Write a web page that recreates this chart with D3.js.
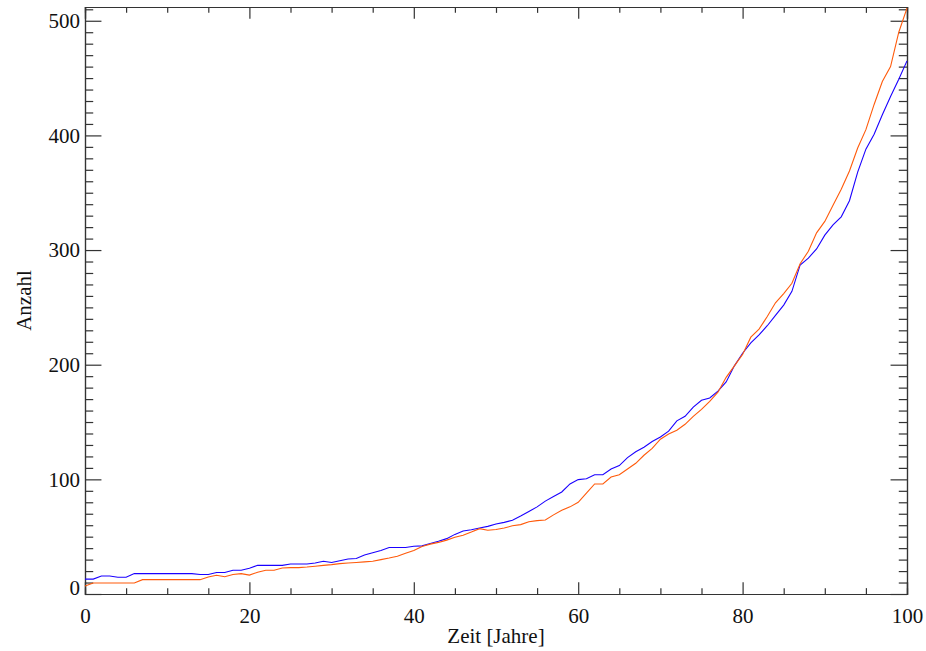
<!DOCTYPE html>
<html>
<head>
<meta charset="utf-8">
<script src="https://cdn.jsdelivr.net/npm/d3@7"></script>
<style>
  html, body { margin: 0; padding: 0; background: #fff; }
  svg { display: block; }
  text { font-family: "Liberation Serif", "DejaVu Serif", serif; fill: #111; }
</style>
</head>
<body>
<script>
// ---- data ----
const years = d3.range(0, 101);
const blueSeries = [13,13,15.7,15.7,14.6,14.6,17.8,17.8,17.8,17.8,17.8,17.8,17.8,17.8,17,17,18.7,18.7,20.7,20.7,
  22.5,25,25,25,25,26.2,26.2,26.2,27,28.5,27.5,29,30.5,31,34,36,38,40.5,40.5,40.5,
  41.6,42,44,46,48.3,52,55,56,57.5,59,61,62.5,64.3,68,72,76,81,85,89,96,
  99.8,100.5,104,104,109,112,119,124,128,133,137,142,151,155,163,169,171,177,185,199,
  210,219,226,234,243,252,264,287,293,301,313,322,329,343,368,388,401,418,434,449,465];
const orangeSeries = [7,9.6,9.6,9.6,9.6,9.6,9.6,12.5,12.5,12.5,12.5,12.5,12.5,12.5,12.5,14.8,16.3,15,17,17.8,
  16.5,19,20.7,20.7,22.7,23,23,23.5,24.2,25,25.6,26.5,27,27.5,28,28.5,30,31.4,33,35.5,
  38,41.5,43.5,45,47,49.5,51.2,54,57,55.6,56.2,57.5,59.5,60.5,63,64,64.5,69,73,76,
  80,88,96,96,102,104,109,114,121,127,135,139.5,142.8,148,155,161,168,176,189,199,
  209,224,231,242,254,262,271,288,299,315,325,339,353,369,389,405,427,447,460,490,511];
const xMajorTicks = [0, 20, 40, 60, 80, 100];
const yMajorTicks = [0, 100, 200, 300, 400, 500];
const xLabel = "Zeit [Jahre]";
const yLabel = "Anzahl";

// ---- layout ----
const W = 926, H = 651;
const L = 85, R = 907, T = 7, B = 594;
const pw = R - L, ph = B - T;

const svg = d3.select("body").append("svg").attr("width", W).attr("height", H);

const x = d3.scaleLinear().domain([0, 100]).range([L, R]);
const y = d3.scaleLinear().domain([0, 512]).range([B, T]);

const xMinor = d3.range(0, 101, 5).filter(v => v % 20 !== 0);
const yMinor = d3.range(0, 512, 10).filter(v => v % 100 !== 0);

const xMajLen = 0.02 * ph, xMinLen = 0.01 * ph;
const yMajLen = 0.02 * pw, yMinLen = 0.01 * pw;
const fs = 21;
const axisColor = "#333";

function styleAxis(g) {
  g.select(".domain").attr("stroke", axisColor).attr("stroke-width", 1.2);
  g.selectAll(".tick line").attr("stroke", axisColor).attr("stroke-width", 1.2);
  g.selectAll(".tick text").attr("font-size", fs).attr("font-family", "Liberation Serif").attr("fill", "#111");
}

// bottom axis
svg.append("g").attr("transform", `translate(0,${B})`)
  .call(d3.axisBottom(x).tickValues(xMajorTicks).tickSize(-xMajLen).tickPadding(14).tickFormat(d3.format("d")))
  .call(styleAxis);
svg.append("g").attr("transform", `translate(0,${B})`)
  .call(d3.axisBottom(x).tickValues(xMinor).tickSize(-xMinLen).tickFormat(""))
  .call(styleAxis);
// top axis
svg.append("g").attr("transform", `translate(0,${T})`)
  .call(d3.axisTop(x).tickValues(xMajorTicks).tickSize(-xMajLen).tickFormat(""))
  .call(styleAxis);
svg.append("g").attr("transform", `translate(0,${T})`)
  .call(d3.axisTop(x).tickValues(xMinor).tickSize(-xMinLen).tickFormat(""))
  .call(styleAxis);
// left axis
const leftG = svg.append("g").attr("transform", `translate(${L},0)`)
  .call(d3.axisLeft(y).tickValues(yMajorTicks).tickSize(-yMajLen).tickPadding(5).tickFormat(d3.format("d")))
  .call(styleAxis);
leftG.selectAll(".tick text").filter(d => d === 0).attr("dy", "0.0em");
svg.append("g").attr("transform", `translate(${L},0)`)
  .call(d3.axisLeft(y).tickValues(yMinor).tickSize(-yMinLen).tickFormat(""))
  .call(styleAxis);
// right axis
svg.append("g").attr("transform", `translate(${R},0)`)
  .call(d3.axisRight(y).tickValues(yMajorTicks).tickSize(-yMajLen).tickFormat(""))
  .call(styleAxis);
svg.append("g").attr("transform", `translate(${R},0)`)
  .call(d3.axisRight(y).tickValues(yMinor).tickSize(-yMinLen).tickFormat(""))
  .call(styleAxis);

// lines
const line = d3.line().x((d, i) => x(years[i])).y(d => y(d)).curve(d3.curveLinear);
svg.append("path").datum(blueSeries).attr("d", line)
  .attr("fill", "none").attr("stroke", "#1a00ff").attr("stroke-width", 1.1);
svg.append("path").datum(orangeSeries).attr("d", line)
  .attr("fill", "none").attr("stroke", "#ff5a0a").attr("stroke-width", 1.1);

// titles
svg.append("text").attr("x", (L + R) / 2).attr("y", 643).attr("text-anchor", "middle")
  .attr("font-size", fs).text(xLabel);
svg.append("text").attr("transform", `translate(31,${(T + B) / 2}) rotate(-90)`)
  .attr("text-anchor", "middle").attr("font-size", fs).text(yLabel);
</script>
</body>
</html>
